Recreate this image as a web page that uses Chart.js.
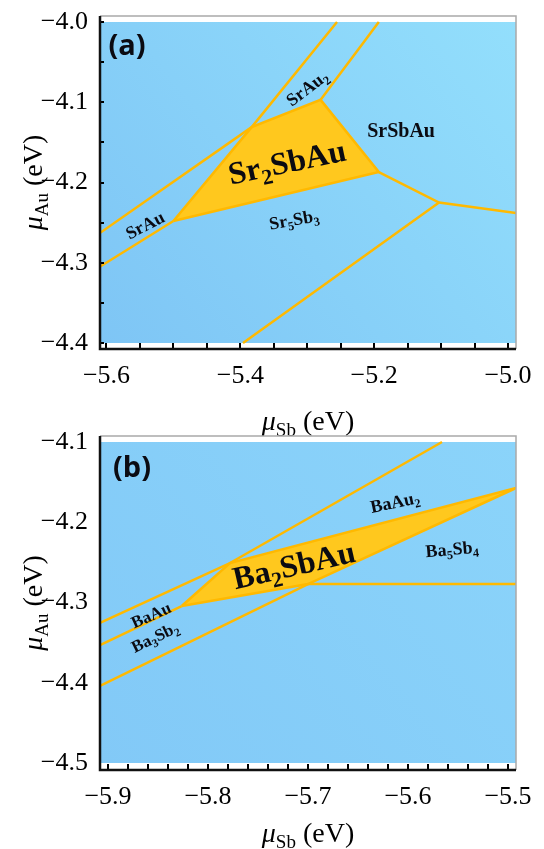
<!DOCTYPE html>
<html>
<head>
<meta charset="utf-8">
<script src="https://cdn.jsdelivr.net/npm/chart.js@4.4.1/dist/chart.umd.min.js"></script>
<style>
  html, body { margin: 0; padding: 0; background: #fff; }
  body { width: 544px; height: 849px; position: relative; overflow: hidden; }
  canvas { position: absolute; left: 0; }
  #chartA { top: 0; }
  #chartB { top: 424px; }
</style>
</head>
<body>
<canvas id="chartA" width="544" height="440"></canvas>
<canvas id="chartB" width="544" height="425"></canvas>
<script>
// ---- panel (a): Sr-Sb-Au, points are [mu_Sb, mu_Au] in eV ----
var aBox = [[-5.61, -4.4], [-4.988, -4.4], [-4.988, -4.0], [-5.61, -4.0]];
var aSr2SbAu = [[-5.500, -4.248], [-5.383, -4.131], [-5.280, -4.097], [-5.193, -4.187], [-5.500, -4.248]];
var aSrAuTop = [[-5.61, -4.263], [-5.383, -4.131]];
var aSrAuBottom = [[-5.61, -4.305], [-5.500, -4.248]];
var aSrAu2Left = [[-5.383, -4.131], [-5.2555, -4.0]];
var aSrAu2Right = [[-5.280, -4.097], [-5.193, -4.0]];
var aSrSbAuLow = [[-5.193, -4.187], [-5.103, -4.225], [-4.988, -4.238]];
var aSr5Sb3Edge = [[-5.103, -4.225], [-5.396, -4.4]];

var aXMajor = [-5.6, -5.4, -5.2, -5.0];
var aXMinor = [-5.55, -5.5, -5.45, -5.35, -5.3, -5.25, -5.15, -5.1, -5.05];
var aYMajor = [-4.4, -4.3, -4.2, -4.1, -4.0];
var aYMinor = [-4.35, -4.25, -4.15, -4.05];

// ---- panel (b): Ba-Sb-Au ----
var bBox = [[-5.908, -4.5], [-5.492, -4.5], [-5.492, -4.1], [-5.908, -4.1]];
var bBa2SbAu = [[-5.8263, -4.3044], [-5.778, -4.2508], [-5.492, -4.1573], [-5.700, -4.277], [-5.8263, -4.3044]];
var bBaAuTop = [[-5.908, -4.3255], [-5.778, -4.2508]];
var bBaAu2Left = [[-5.778, -4.2508], [-5.566, -4.1]];
var bBaAuBottom = [[-5.908, -4.353], [-5.8263, -4.3044]];
var bBa3Sb2Bottom = [[-5.908, -4.404], [-5.700, -4.277]];
var bBa5Sb4Low = [[-5.700, -4.277], [-5.492, -4.277]];

var bXMajor = [-5.9, -5.8, -5.7, -5.6, -5.5];
var bXMinor = [-5.88, -5.86, -5.84, -5.82, -5.78, -5.76, -5.74, -5.72, -5.68, -5.66, -5.64, -5.62,
    -5.58, -5.56, -5.54, -5.52];
var bYMajor = [-4.5, -4.4, -4.3, -4.2, -4.1];

var SERIF = '"Liberation Serif", "Times New Roman", serif';
var LINE = '#ffb900';
var FILL = '#ffc81e';

function pts(arr) {
    return arr.map(function (p) { return {x: p[0], y: p[1]}; });
}

function edge(arr) {
    return {data: pts(arr), borderColor: LINE, borderWidth: 2.5, pointRadius: 0, fill: false, tension: 0, order: 0};
}

function region(arr) {
    return {data: pts(arr), borderColor: LINE, borderWidth: 2.5, backgroundColor: FILL, pointRadius: 0,
        fill: 'shape', tension: 0, order: 1};
}

function background(arr, c0, c1) {
    return {
        data: pts(arr), borderWidth: 0, pointRadius: 0, fill: 'shape', order: 2,
        backgroundColor: function (ctx) {
            var area = ctx.chart.chartArea;
            if (!area) return c0;
            var g = ctx.chart.ctx.createLinearGradient(area.left, area.bottom, area.right, area.top);
            g.addColorStop(0, c0);
            g.addColorStop(1, c1);
            return g;
        }
    };
}

function tickText(majors) {
    return function (v) {
        var hit = majors.some(function (m) { return Math.abs(m - v) < 1e-6; });
        return hit ? '\u2212' + Math.abs(v).toFixed(1) : '';
    };
}

function tickList(list) {
    return function (scale) {
        scale.ticks = list.slice().sort(function (p, q) { return p - q; })
            .map(function (v) { return {value: v}; });
    };
}

// "Sr_2SbAu" -> runs with subscripts
function parseRich(s) {
    var runs = [], re = /_\{([^}]*)\}|_(.)|([^_]+)/g, m;
    while ((m = re.exec(s))) {
        if (m[3]) runs.push({t: m[3]});
        else runs.push({t: m[1] || m[2], sub: true});
    }
    return runs;
}

function drawRich(ctx, runs, size, family, weight) {
    var w = 0;
    runs.forEach(function (r) {
        var sz = r.sub ? size * 0.68 : size;
        r.font = (r.it ? 'italic ' : '') + weight + ' ' + sz + 'px ' + family;
        ctx.font = r.font;
        r.w = ctx.measureText(r.t).width;
        w += r.w;
    });
    var x = -w / 2;
    ctx.textBaseline = 'alphabetic';
    ctx.textAlign = 'left';
    runs.forEach(function (r) {
        ctx.font = r.font;
        ctx.fillText(r.t, x, size * 0.33 + (r.sub ? size * 0.22 : 0));
        x += r.w;
    });
}

var phasePlugin = {
    id: 'phase',
    afterDatasetsDraw: function (chart, args, opts) {
        var ctx = chart.ctx, area = chart.chartArea;
        var xs = chart.scales.x, ys = chart.scales.y;
        ctx.save();

        // ticks pointing into the frame
        ctx.strokeStyle = '#000';
        ctx.lineWidth = 2;
        ctx.beginPath();
        xs.ticks.forEach(function (t) {
            var px = Math.round(xs.getPixelForValue(t.value));
            ctx.moveTo(px, area.bottom);
            ctx.lineTo(px, area.bottom - 6);
        });
        if (opts.yTicks) {
            ys.ticks.forEach(function (t) {
                var py = Math.round(ys.getPixelForValue(t.value));
                ctx.moveTo(area.left, py);
                ctx.lineTo(area.left + 4, py);
            });
        }
        ctx.stroke();

        // frame
        ctx.strokeStyle = '#a9a9a9';
        ctx.lineWidth = 1.5;
        ctx.beginPath();
        ctx.moveTo(area.left, area.top);
        ctx.lineTo(area.right, area.top);
        ctx.lineTo(area.right, area.bottom);
        ctx.stroke();
        ctx.strokeStyle = '#111';
        ctx.lineWidth = 2.5;
        ctx.beginPath();
        ctx.moveTo(area.left, area.top);
        ctx.lineTo(area.left, area.bottom);
        ctx.lineTo(area.right, area.bottom);
        ctx.stroke();

        // phase names
        ctx.fillStyle = '#0b0b12';
        opts.names.forEach(function (n) {
            ctx.save();
            ctx.translate(xs.getPixelForValue(n.x), ys.getPixelForValue(n.y));
            ctx.rotate(n.angle * Math.PI / 180);
            drawRich(ctx, parseRich(n.text), n.size, n.family || SERIF, n.weight || 'bold');
            ctx.restore();
        });

        // axis titles
        ctx.fillStyle = '#000';
        ctx.save();
        ctx.translate((area.left + area.right) / 2, opts.xTitleY);
        drawRich(ctx, [{t: '\u03bc', it: true}, {t: 'Sb', sub: true}, {t: ' (eV)'}], 28, SERIF, 'normal');
        ctx.restore();
        ctx.save();
        ctx.translate(opts.yTitleX, (area.top + area.bottom) / 2);
        ctx.rotate(-Math.PI / 2);
        drawRich(ctx, [{t: '\u03bc', it: true}, {t: 'Au', sub: true}, {t: ' (eV)'}], 28, SERIF, 'normal');
        ctx.restore();

        ctx.restore();
    }
};

function makeChart(id, cfg) {
    return new Chart(document.getElementById(id), {
        type: 'line',
        data: {datasets: cfg.datasets},
        options: {
            responsive: false,
            animation: false,
            events: [],
            devicePixelRatio: 1,
            layout: {padding: {left: 0, right: 28, top: cfg.top, bottom: 0}},
            plugins: {
                legend: {display: false},
                tooltip: {enabled: false},
                phase: {names: cfg.names, yTicks: cfg.yTicks, xTitleY: cfg.xTitleY, yTitleX: 33}
            },
            scales: {
                x: {
                    type: 'linear', min: cfg.xRange[0], max: cfg.xRange[1],
                    grid: {display: false}, border: {display: false},
                    afterBuildTicks: tickList(cfg.xTicks),
                    afterFit: function (s) { s.height = cfg.xHeight; s.paddingLeft = 0; s.paddingRight = 0; },
                    ticks: {autoSkip: false, maxRotation: 0, padding: 4, color: '#000',
                        font: {family: SERIF, size: 26}, callback: tickText(cfg.xMajor)}
                },
                y: {
                    type: 'linear', min: cfg.yRange[0], max: cfg.yRange[1],
                    grid: {display: false}, border: {display: false},
                    afterBuildTicks: tickList(cfg.yTicksList),
                    afterFit: function (s) { s.width = 100; s.paddingTop = 0; s.paddingBottom = 0; },
                    ticks: {autoSkip: false, padding: 4, color: '#000',
                        font: {family: SERIF, size: 26}, callback: tickText(cfg.yMajor)}
                }
            }
        },
        plugins: [phasePlugin]
    });
}

makeChart('chartA', {
    top: 16, xTitleY: 421, xHeight: 91, yTicks: true,
    xRange: [-5.6097, -4.988], yRange: [-4.4075, -3.9925],
    xTicks: aXMajor.concat(aXMinor), xMajor: aXMajor,
    yTicksList: aYMajor.concat(aYMinor), yMajor: aYMajor,
    datasets: [
        edge(aSrAuTop), edge(aSrAuBottom), edge(aSrAu2Left), edge(aSrAu2Right),
        edge(aSrSbAuLow), edge(aSr5Sb3Edge),
        region(aSr2SbAu),
        background(aBox, '#7ec5f5', '#93dffc')
    ],
    names: [
        {text: '(a)', x: -5.5694, y: -4.0287, angle: 0, size: 29, family: '"Open Sans", sans-serif'},
        {text: 'SrAu_2', x: -5.3003, y: -4.0822, angle: -37, size: 18},
        {text: 'SrSbAu', x: -5.1598, y: -4.1346, angle: 0, size: 20},
        {text: 'Sr_2SbAu', x: -5.3302, y: -4.1745, angle: -12, size: 32},
        {text: 'Sr_5Sb_3', x: -5.3197, y: -4.2461, angle: -10, size: 18},
        {text: 'SrAu', x: -5.5425, y: -4.2530, angle: -27, size: 18}
    ]
});

makeChart('chartB', {
    top: 12, xTitleY: 409, xHeight: 79, yTicks: false,
    xRange: [-5.908, -5.492], yRange: [-4.5087, -4.0925],
    xTicks: bXMajor.concat(bXMinor), xMajor: bXMajor,
    yTicksList: bYMajor, yMajor: bYMajor,
    datasets: [
        edge(bBaAuTop), edge(bBaAu2Left), edge(bBaAuBottom), edge(bBa3Sb2Bottom), edge(bBa5Sb4Low),
        region(bBa2SbAu),
        background(bBox, '#82c9f7', '#8bd4fa')
    ],
    names: [
        {text: '(b)', x: -5.876, y: -4.1312, angle: 0, size: 29, family: '"Open Sans", sans-serif'},
        {text: 'BaAu', x: -5.857, y: -4.3155, angle: -24, size: 17},
        {text: 'Ba_3Sb_2', x: -5.853, y: -4.343, angle: -26, size: 17},
        {text: 'Ba_2SbAu', x: -5.714, y: -4.2533, angle: -13, size: 32},
        {text: 'BaAu_2', x: -5.613, y: -4.1748, angle: -12, size: 18},
        {text: 'Ba_5Sb_4', x: -5.556, y: -4.2333, angle: -5, size: 18}
    ]
});
</script>
</body>
</html>
